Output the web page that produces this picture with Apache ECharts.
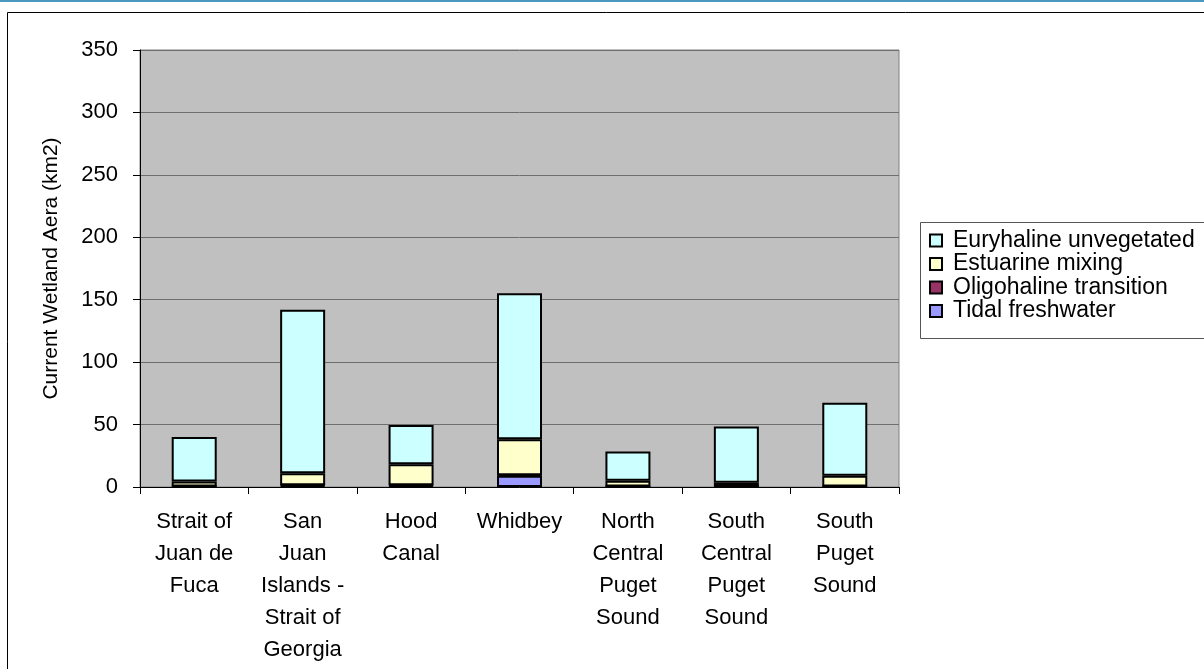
<!DOCTYPE html>
<html>
<head>
<meta charset="utf-8">
<script src="https://cdn.jsdelivr.net/npm/echarts@6/dist/echarts.min.js"></script>
<style>
html,body{margin:0;padding:0;background:#fff;}
#c{width:1204px;height:669px;}
</style>
</head>
<body>
<div id="c"></div>
<script>
const categories = ["Strait of\nJuan de\nFuca", "San\nJuan\nIslands -\nStrait of\nGeorgia", "Hood\nCanal", "Whidbey", "North\nCentral\nPuget\nSound", "South\nCentral\nPuget\nSound", "South\nPuget\nSound"];
const tidalFreshwater = [0.3, 1, 1, 9, 0.3, 0.3, 0.3];
const oligohalineTransition = [0.2, 0.5, 0.5, 0.5, 0.2, 0.2, 0.2];
const estuarineMixing = [4, 9.5, 16.7, 28.7, 4.5, 3, 8.5];
const euryhalineUnvegetated = [35.5, 131, 31.5, 117, 23.5, 45, 58.5];
const yTicks = [0, 50, 100, 150, 200, 250, 300, 350];

const font = "'Liberation Sans', Arial, sans-serif";
const chart = echarts.init(document.getElementById('c'), null, {renderer: 'canvas'});
function mk(name, data, color) {
  return {
    name: name, type: 'bar', stack: 'total', data: data,
    barWidth: 45,
    itemStyle: {color: color, borderColor: '#000', borderWidth: 2},
    emphasis: {disabled: true}
  };
}
chart.setOption({
  animation: false,
  backgroundColor: '#fff',
  graphic: [
    {type: 'rect', shape: {x: 0, y: 0, width: 1204, height: 2}, style: {fill: '#4a9ac0'}},
    {type: 'rect', shape: {x: 7.5, y: 12.5, width: 1220, height: 680}, style: {fill: 'none', stroke: '#000', lineWidth: 1}},
    {type: 'rect', shape: {x: 920.5, y: 222.5, width: 320, height: 116}, style: {fill: '#fff', stroke: '#555', lineWidth: 1}, z: 0}
  ],
  grid: {left: 140, top: 50, right: 305, bottom: 182, show: true, backgroundColor: '#c0c0c0', borderColor: '#808080', borderWidth: 1},
  legend: {
    orient: 'vertical', left: 929, top: 229, padding: 0,
    itemWidth: 12, itemHeight: 12, itemGap: 0.5,
    data: ['Euryhaline unvegetated', 'Estuarine mixing', 'Oligohaline transition', 'Tidal freshwater'],
    textStyle: {fontFamily: font, fontSize: 23, color: '#000', lineHeight: 23, padding: [0, 0, 0, 6]},
    icon: 'rect'
  },
  xAxis: {
    type: 'category', data: categories,
    axisLine: {lineStyle: {color: '#000', width: 1}},
    axisTick: {show: true, length: 7, lineStyle: {color: '#000'}},
    axisLabel: {fontFamily: font, fontSize: 22, color: '#000', lineHeight: 32, margin: 19, interval: 0},
    splitLine: {show: false}
  },
  yAxis: {
    type: 'value', min: 0, max: 350, interval: 50,
    name: 'Current Wetland Aera (km2)', nameLocation: 'middle', nameGap: 78,
    nameTextStyle: {fontFamily: font, fontSize: 21, color: '#000'},
    axisLine: {show: true, lineStyle: {color: '#000'}},
    axisTick: {show: true, length: 7, lineStyle: {color: '#000'}},
    axisLabel: {fontFamily: font, fontSize: 22, color: '#000', margin: 22,
      formatter: function (v) { return yTicks.indexOf(v) >= 0 ? String(v) : ''; }},
    splitLine: {show: true, lineStyle: {color: '#6e6e6e', width: 1}}
  },
  series: [
    mk('Tidal freshwater', tidalFreshwater, '#9999ff'),
    mk('Oligohaline transition', oligohalineTransition, '#993366'),
    mk('Estuarine mixing', estuarineMixing, '#ffffcc'),
    mk('Euryhaline unvegetated', euryhalineUnvegetated, '#ccffff')
  ]
});
</script>
</body>
</html>
